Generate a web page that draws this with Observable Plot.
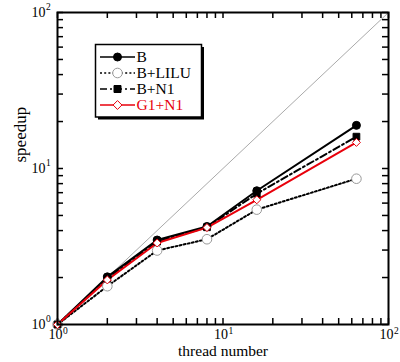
<!DOCTYPE html>
<html>
<head>
<meta charset="utf-8">
<script src="https://cdn.jsdelivr.net/npm/d3@7"></script>
<script src="https://cdn.jsdelivr.net/npm/@observablehq/plot@0.6"></script>
<style>
  body { margin: 0; background: white; }
  #wrap { position: relative; width: 400px; height: 362px; }
  #legend { position: absolute; left: 0; top: 0; }
  svg, svg text { font-family: "Liberation Serif", "DejaVu Serif", serif !important; }
</style>
</head>
<body>
<div id="wrap"></div>
<script>
const threads = [1, 2, 4, 8, 16, 64];
const speedB     = [1, 2.02, 3.48, 4.25, 7.2, 18.9];
const speedLILU  = [1, 1.76, 2.98, 3.52, 5.45, 8.6];
const speedBN1   = [1, 1.97, 3.40, 4.20, 6.9, 16.0];
const speedG1N1  = [1, 1.93, 3.33, 4.18, 6.3, 14.7];
const seriesNames = ["B", "B+LILU", "B+N1", "G1+N1"];
const majorTicks = [1, 10, 100];
const tickExponents = ["0", "1", "2"];
const minorTicks = [2,3,4,5,6,7,8,9,20,30,40,50,60,70,80,90];
const idealLine = [1, 100];

const styles = {
  "B":      {stroke: "black", dash: null, symbol: "circle", fill: "black", dotStroke: "black", r: 4, text: "black"},
  "B+LILU": {stroke: "black", dash: "2,2.2", symbol: "circle", fill: "white", dotStroke: "#999", r: 4.8, text: "black"},
  "B+N1":   {stroke: "black", dash: "7,3,2,3", symbol: "square", fill: "black", dotStroke: "black", r: 3.8, text: "black"},
  "G1+N1":  {stroke: "#e8000b", dash: null, symbol: "diamond2", fill: "white", dotStroke: "#e8000b", r: 3.6, text: "#e8000b"}
};
const values = {"B": speedB, "B+LILU": speedLILU, "B+N1": speedBN1, "G1+N1": speedG1N1};
const rows = seriesNames.map(s => threads.map((t, i) => ({series: s, x: t, y: values[s][i]})));

const W = 400, H = 362, mL = 57, mR = 12, mT = 12, mB = 38;
const innerH = H - mT - mB, innerW = W - mL - mR;
const tl = 6;
const FONT = "'Liberation Serif', 'DejaVu Serif', serif";

const marks = [
  Plot.line(idealLine, {x: d => d, y: d => d, stroke: "#aaa", strokeWidth: 1}),
];
rows.forEach((r, i) => {
  const st = styles[seriesNames[i]];
  marks.push(Plot.line(r, {x: "x", y: "y", stroke: st.stroke, strokeWidth: 2, strokeDasharray: st.dash}));
});
rows.forEach((r, i) => {
  const st = styles[seriesNames[i]];
  marks.push(Plot.dot(r, {x: "x", y: "y", symbol: st.symbol, fill: st.fill, stroke: st.dotStroke, strokeWidth: 1, r: st.r}));
});
const allTicks = majorTicks.concat(minorTicks);
marks.push(
  Plot.tickX(allTicks, {x: d => d, insetTop: innerH - tl, stroke: "black", strokeWidth: 1.5}),
  Plot.tickX(allTicks, {x: d => d, insetBottom: innerH - tl, stroke: "black", strokeWidth: 1.5}),
  Plot.tickY(allTicks, {y: d => d, insetRight: innerW - tl, stroke: "black", strokeWidth: 1.5}),
  Plot.tickY(allTicks, {y: d => d, insetLeft: innerW - tl, stroke: "black", strokeWidth: 1.5}),
  Plot.frame({stroke: "black", strokeWidth: 2}),
  // x tick labels
  Plot.text(majorTicks, {x: d => d, frameAnchor: "bottom", dy: 14, dx: 5, text: () => "10", textAnchor: "end", fontSize: 14, fill: "black"}),
  Plot.text(majorTicks, {x: d => d, frameAnchor: "bottom", dy: 9, dx: 5.5, text: (d, i) => tickExponents[i], textAnchor: "start", fontSize: 9.5, fill: "black"}),
  // y tick labels
  Plot.text(majorTicks, {y: d => d, frameAnchor: "left", dx: -12, dy: 0, text: () => "10", textAnchor: "end", fontSize: 14, fill: "black"}),
  Plot.text(majorTicks, {y: d => d, frameAnchor: "left", dx: -11.5, dy: -6, text: (d, i) => tickExponents[i], textAnchor: "start", fontSize: 9.5, fill: "black"}),
  // axis titles
  Plot.text(["thread number"], {frameAnchor: "bottom", dy: 31, text: d => d, fontSize: 15.5, fill: "black"}),
  Plot.text(["speedup"], {frameAnchor: "left", dx: -37, dy: -6, text: d => d, rotate: -90, fontSize: 17, fill: "black"})
);

const chart = Plot.plot({
  width: W, height: H,
  marginLeft: mL, marginRight: mR, marginTop: mT, marginBottom: mB,
  x: {type: "log", domain: [1, 100], axis: null},
  y: {type: "log", domain: [1, 100], axis: null},
  style: {fontFamily: FONT, fontSize: "14px", background: "white", overflow: "visible"},
  marks
});
const wrap = document.getElementById("wrap");
wrap.appendChild(chart);

// Legend overlay
const lg = d3.select(wrap).append("svg").attr("id", "legend").attr("width", W).attr("height", H)
  .style("font-family", FONT);
const bx = 95.5, by = 44.5, bw = 106, bh = 72.5;
lg.append("rect").attr("x", bx + 2.5).attr("y", by + 2.5).attr("width", bw).attr("height", bh).attr("fill", "black");
lg.append("rect").attr("x", bx).attr("y", by).attr("width", bw).attr("height", bh).attr("fill", "white").attr("stroke", "black").attr("stroke-width", 1.5);
seriesNames.forEach((s, i) => {
  const st = styles[s];
  const yy = 57 + i * 16;
  lg.append("line").attr("x1", 100).attr("x2", 135).attr("y1", yy).attr("y2", yy)
    .attr("stroke", st.stroke).attr("stroke-width", 1.6).attr("stroke-dasharray", st.dash);
  const sym = {circle: d3.symbolCircle, square: d3.symbolSquare, diamond2: d3.symbolDiamond2}[st.symbol];
  const area = st.symbol === "circle" ? Math.PI * st.r * st.r : (st.symbol === "square" ? 49 : 50);
  lg.append("path").attr("d", d3.symbol(sym, area)()).attr("transform", `translate(117.5,${yy})`)
    .attr("fill", st.fill).attr("stroke", st.dotStroke).attr("stroke-width", 1);
  lg.append("text").attr("x", 136.5).attr("y", yy).attr("dy", "0.35em").attr("font-size", 15.5)
    .attr("fill", st.text).text(s);
});
</script>
</body>
</html>
